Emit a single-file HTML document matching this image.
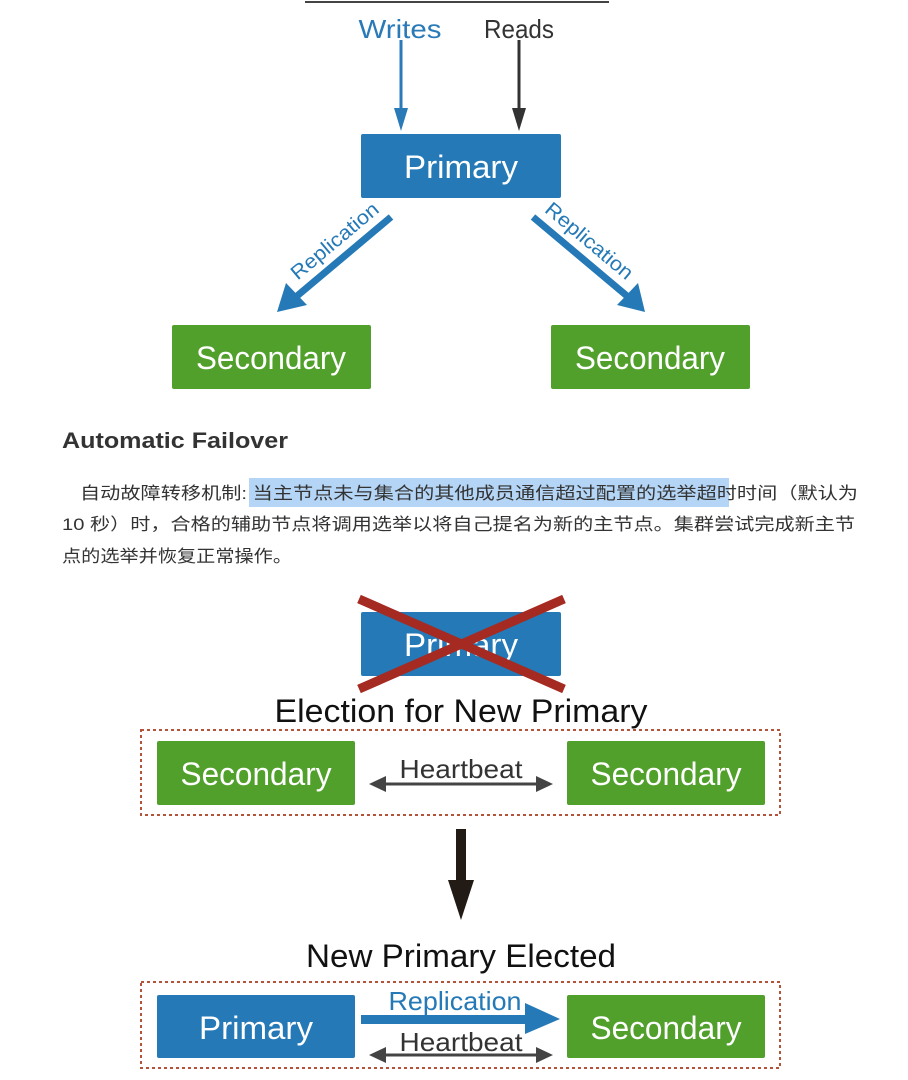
<!DOCTYPE html>
<html><head><meta charset="utf-8"><style>
html,body{margin:0;padding:0;background:#fff;width:908px;height:1080px;overflow:hidden}
svg{display:block}
.g{font-family:"Liberation Sans",sans-serif}
.c{font-family:"Liberation Sans","Noto Sans CJK SC",sans-serif}
</style></head><body>
<svg width="908" height="1080" viewBox="0 0 908 1080" xmlns="http://www.w3.org/2000/svg">
<line x1="305" y1="2" x2="609" y2="2" stroke="#444" stroke-width="2"/>
<text x="400" y="38" class="g" font-size="26" fill="#2a7ab8" text-anchor="middle" textLength="83" lengthAdjust="spacingAndGlyphs">Writes</text>
<text x="519" y="38" class="g" font-size="26" fill="#333" text-anchor="middle" textLength="70" lengthAdjust="spacingAndGlyphs">Reads</text>
<line x1="401" y1="40" x2="401" y2="110" stroke="#2a7ab8" stroke-width="3"/>
<path d="M394,108L408,108L401,131z" fill="#2a7ab8"/>
<line x1="519" y1="40" x2="519" y2="110" stroke="#333" stroke-width="3"/>
<path d="M512,108L526,108L519,131z" fill="#333"/>
<rect x="361" y="134" width="200" height="64" rx="2" fill="#2479b6"/>
<text x="461" y="178" class="g" font-size="32" fill="#fff" text-anchor="middle" textLength="114" lengthAdjust="spacingAndGlyphs">Primary</text>
<line x1="391" y1="217" x2="297" y2="296" stroke="#2479b6" stroke-width="7"/>
<path d="M277,312L286,283L307,305z" fill="#2479b6"/>
<line x1="533" y1="217" x2="627" y2="296" stroke="#2479b6" stroke-width="7"/>
<path d="M645,312L617,305L638,283z" fill="#2479b6"/>
<text transform="translate(339,246) rotate(-40)" class="g" font-size="20" fill="#2479b6" text-anchor="middle" textLength="108" lengthAdjust="spacingAndGlyphs">Replication</text>
<text transform="translate(585,246) rotate(40)" class="g" font-size="20" fill="#2479b6" text-anchor="middle" textLength="108" lengthAdjust="spacingAndGlyphs">Replication</text>
<rect x="172" y="325" width="199" height="64" rx="2" fill="#52a02c"/>
<text x="271" y="369" class="g" font-size="32" fill="#fff" text-anchor="middle" textLength="150" lengthAdjust="spacingAndGlyphs">Secondary</text>
<rect x="551" y="325" width="199" height="64" rx="2" fill="#52a02c"/>
<text x="650" y="369" class="g" font-size="32" fill="#fff" text-anchor="middle" textLength="150" lengthAdjust="spacingAndGlyphs">Secondary</text>
<text x="62" y="448" class="g" font-size="22" font-weight="bold" fill="#333" textLength="226" lengthAdjust="spacingAndGlyphs">Automatic Failover</text>
<rect x="249" y="478" width="480" height="29" fill="#b4d5f5"/>
<text x="80" y="499" class="c" font-size="17" fill="#333" textLength="778" lengthAdjust="spacingAndGlyphs">自动故障转移机制: 当主节点未与集合的其他成员通信超过配置的选举超时时间（默认为</text>
<text x="62" y="530" class="c" font-size="17" fill="#333" textLength="793" lengthAdjust="spacingAndGlyphs">10 秒）时，合格的辅助节点将调用选举以将自己提名为新的主节点。集群尝试完成新主节</text>
<text x="62" y="562" class="c" font-size="17" fill="#333" textLength="230" lengthAdjust="spacingAndGlyphs">点的选举并恢复正常操作。</text>
<rect x="361" y="612" width="200" height="64" rx="2" fill="#2479b6"/>
<text x="461" y="656" class="g" font-size="32" fill="#fff" text-anchor="middle" textLength="114" lengthAdjust="spacingAndGlyphs">Primary</text>
<line x1="359" y1="599" x2="564" y2="689" stroke="#a52a22" stroke-width="9"/>
<line x1="359" y1="689" x2="564" y2="599" stroke="#a52a22" stroke-width="9"/>
<text x="461" y="722" class="g" font-size="32" fill="#111" text-anchor="middle" textLength="373" lengthAdjust="spacingAndGlyphs">Election for New Primary</text>
<rect x="141" y="730" width="639" height="85" fill="none" stroke="#b5533a" stroke-width="2" stroke-dasharray="3,3"/>
<rect x="157" y="741" width="198" height="64" rx="2" fill="#52a02c"/>
<text x="256" y="785" class="g" font-size="32" fill="#fff" text-anchor="middle" textLength="151" lengthAdjust="spacingAndGlyphs">Secondary</text>
<rect x="567" y="741" width="198" height="64" rx="2" fill="#52a02c"/>
<text x="666" y="785" class="g" font-size="32" fill="#fff" text-anchor="middle" textLength="151" lengthAdjust="spacingAndGlyphs">Secondary</text>
<text x="461" y="778" class="g" font-size="26" fill="#333" text-anchor="middle" textLength="123" lengthAdjust="spacingAndGlyphs">Heartbeat</text>
<line x1="380" y1="784" x2="542" y2="784" stroke="#444" stroke-width="3"/>
<path d="M369,784L386,776L386,792z" fill="#444"/>
<path d="M553,784L536,776L536,792z" fill="#444"/>
<rect x="456" y="829" width="10" height="54" fill="#221a15"/>
<path d="M448,880L474,880L461,920z" fill="#221a15"/>
<text x="461" y="967" class="g" font-size="32" fill="#111" text-anchor="middle" textLength="310" lengthAdjust="spacingAndGlyphs">New Primary Elected</text>
<rect x="141" y="982" width="639" height="86" fill="none" stroke="#b5533a" stroke-width="2" stroke-dasharray="3,3"/>
<rect x="157" y="995" width="198" height="63" rx="2" fill="#2479b6"/>
<text x="256" y="1039" class="g" font-size="32" fill="#fff" text-anchor="middle" textLength="114" lengthAdjust="spacingAndGlyphs">Primary</text>
<rect x="567" y="995" width="198" height="63" rx="2" fill="#52a02c"/>
<text x="666" y="1039" class="g" font-size="32" fill="#fff" text-anchor="middle" textLength="151" lengthAdjust="spacingAndGlyphs">Secondary</text>
<text x="455" y="1010" class="g" font-size="26" fill="#2479b6" text-anchor="middle" textLength="133" lengthAdjust="spacingAndGlyphs">Replication</text>
<rect x="361" y="1015" width="166" height="9" fill="#2479b6"/>
<path d="M525,1003L560,1019L525,1034z" fill="#2479b6"/>
<text x="461" y="1051" class="g" font-size="26" fill="#333" text-anchor="middle" textLength="123" lengthAdjust="spacingAndGlyphs">Heartbeat</text>
<line x1="380" y1="1055" x2="542" y2="1055" stroke="#444" stroke-width="3"/>
<path d="M369,1055L386,1047L386,1063z" fill="#444"/>
<path d="M553,1055L536,1047L536,1063z" fill="#444"/>
</svg>
</body></html>
